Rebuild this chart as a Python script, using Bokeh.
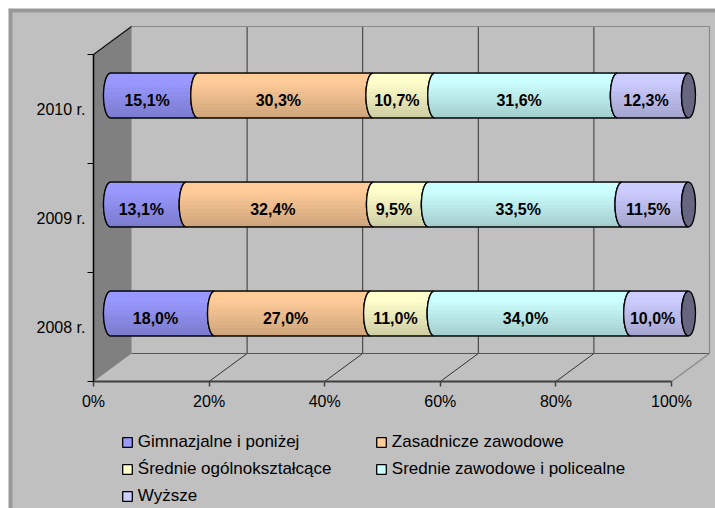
import math
from bokeh.plotting import figure
from bokeh.models import (Range1d, LinearAxis, FixedTicker, PrintfTickFormatter,
                          Legend, LegendItem, BoxAnnotation, ColumnDataSource)
from bokeh.core.properties import value
from bokeh.embed import file_html
from bokeh.resources import INLINE

# ---------------- data ----------------
years = ["2008 r.", "2009 r.", "2010 r."]
series_names = ["Gimnazjalne i poniżej", "Zasadnicze zawodowe",
                "Średnie ogólnokształcące", "Srednie zawodowe i policealne", "Wyższe"]
gimnazjalne = [18.0, 13.1, 15.1]
zasadnicze = [27.0, 32.4, 30.3]
srednie_ogolne = [11.0, 9.5, 10.7]
srednie_zawodowe = [34.0, 33.5, 31.6]
wyzsze = [10.0, 11.5, 12.3]
x_ticks = [0, 20, 40, 60, 80, 100]
colors = ["#9999FF", "#FFCC99", "#FFFFCC", "#CCFFFF", "#CCCCFF"]
cap_color = "#666680"
series = [gimnazjalne, zasadnicze, srednie_ogolne, srednie_zawodowe, wyzsze]

# ---------------- layout constants ----------------
W, H = 715, 508
MARGIN = 8
FW, FH = W - MARGIN, H - MARGIN   # frame size
PX_X = 5.78          # px per percent
PX_Y = 109.0         # px per category
OX, OY = 85.0, 373.0  # frame position of the front-left-bottom corner
x_start = -OX / PX_X
x_end = (FW - OX) / PX_X
y_end = -0.5 + OY / PX_Y
y_start = y_end - FH / PX_Y

DX, DY = 38 / PX_X, 28 / PX_Y          # wall depth
BDX, BDY = 17 / PX_X, 13.5 / PX_Y      # bar depth
A, B = 7 / PX_X, 22.3 / PX_Y           # ellipse semi-axes of the cylinders
LBL_DY = 5 / PX_Y
FONT_NAME = "Liberation Sans"
FONT = value(FONT_NAME)
N_STRIPS = 18

fb, ft = -0.5, len(years) - 0.5

p = figure(width=W, height=H, x_range=Range1d(x_start, x_end), y_range=Range1d(y_start, y_end),
           output_backend="svg", toolbar_location=None, x_axis_type=None, y_axis_type=None,
           min_border=0, min_border_left=MARGIN, min_border_top=MARGIN,
           background_fill_color="#C0C0C0", border_fill_color="white",
           outline_line_color=None)
p.grid.visible = False

# outer chart border (top / left)
p.add_layout(BoxAnnotation(bottom=y_end - 4 / PX_Y, fill_color="#999999", fill_alpha=1,
                           line_alpha=0, level="underlay"))
p.add_layout(BoxAnnotation(right=x_start + 4 / PX_X, fill_color="#999999", fill_alpha=1,
                           line_alpha=0, level="underlay"))

# left wall
p.patch([0, 0, DX, DX], [fb, ft, ft + DY, fb + DY], fill_color="#808080", line_color=None)

inner = [t for t in x_ticks if 0 < t < 100]
# gridlines on back wall
p.segment(x0=[t + DX for t in inner], y0=[fb + DY] * len(inner),
          x1=[t + DX for t in inner], y1=[ft + DY] * len(inner), line_color="#333333", line_width=1)
# floor lines
p.segment(x0=inner, y0=[fb] * len(inner), x1=[t + DX for t in inner], y1=[fb + DY] * len(inner),
          line_color="#333333", line_width=1)
# back wall bottom edge
p.segment(x0=[DX], y0=[fb + DY], x1=[100 + DX], y1=[fb + DY], line_color="#555555", line_width=1)
# back wall top / right edges and floor right edge
p.multi_line(xs=[[DX, 100 + DX, 100 + DX, 100]], ys=[[ft + DY, ft + DY, fb + DY, fb]],
             line_color="#888888", line_width=1.2)
# left wall top edge
p.segment(x0=[0], y0=[ft], x1=[DX], y1=[ft + DY], line_color="#111111", line_width=1.2)


def arc(xc, yc, t0, t1, n=24):
    pts = []
    for k in range(n + 1):
        t = t0 + (t1 - t0) * k / n
        pts.append((xc - A * math.cos(t), yc + B * math.sin(t)))
    return pts


def shade(hexcol, f):
    r, g, b = int(hexcol[1:3], 16), int(hexcol[3:5], 16), int(hexcol[5:7], 16)
    return "#%02x%02x%02x" % (int(r * f), int(g * f), int(b * f))


legend_renderers = []
lab_x, lab_y, lab_t = [], [], []
for j, (name, vals, col) in enumerate(zip(series_names, series, colors)):
    base_xs, base_ys = [], []
    st_xs, st_ys, st_c = [], [], []
    for i, v in enumerate(vals):
        s = sum(series[k][i] for k in range(j))
        e = s + v
        yc = i + BDY
        xs0, xe0 = s + BDX, e + BDX
        shape = arc(xs0, yc, -math.pi / 2, math.pi / 2) + arc(xe0, yc, math.pi / 2, -math.pi / 2)
        base_xs.append([q[0] for q in shape])
        base_ys.append([q[1] for q in shape])
        for k in range(N_STRIPS):
            t0 = -math.pi / 2 + math.pi * k / N_STRIPS
            t1 = -math.pi / 2 + math.pi * (k + 1) / N_STRIPS
            poly = arc(xs0, yc, t0, t1, 3) + arc(xe0, yc, t1, t0, 3)
            st_xs.append([q[0] for q in poly])
            st_ys.append([q[1] for q in poly])
            tm = (t0 + t1) / 2
            frac = (math.sin(tm) + 1) / 2
            f = 0.80 + 0.20 * min(1.0, frac * 1.25)
            st_c.append(shade(col, f))
        lab_x.append((s + e) / 2 + BDX - A)
        lab_y.append(yc - LBL_DY)
        lab_t.append(("%.1f" % v).replace(".", ",") + "%")
    r = p.patches(base_xs, base_ys, fill_color=col, line_color="black", line_width=1.3)
    legend_renderers.append(r)
    p.patches("xs", "ys", source=ColumnDataSource(dict(xs=st_xs, ys=st_ys, c=st_c)),
              fill_color="c", line_color="c", line_width=0.6)
    p.patches(base_xs, base_ys, fill_alpha=0, line_color="black", line_width=1.3)

# end caps
p.ellipse(x=[100 + BDX] * len(years), y=[i + BDY for i in range(len(years))],
          width=2 * A, height=2 * B, fill_color=cap_color, line_color="black", line_width=1.3)

p.text(x=lab_x, y=lab_y, text=lab_t, text_align="center", text_baseline="middle",
       text_font=FONT, text_font_style="bold", text_font_size="16px", text_color="black")

# axes
xaxis = LinearAxis(fixed_location=fb, ticker=FixedTicker(ticks=x_ticks),
                   formatter=PrintfTickFormatter(format="%d%%"), bounds=(0, 100),
                   axis_line_color="#404040", axis_line_width=2,
                   major_tick_line_color="#404040", major_tick_line_width=1.5,
                   major_tick_out=5, major_tick_in=0, minor_tick_out=0, minor_tick_in=0,
                   major_label_standoff=6, major_label_text_font=FONT_NAME,
                   major_label_text_font_size="16px", major_label_text_color="black")
p.add_layout(xaxis, "below")

yaxis = LinearAxis(fixed_location=0,
                   ticker=FixedTicker(ticks=list(range(len(years))),
                                      minor_ticks=[i - 0.5 for i in range(len(years) + 1)]),
                   major_label_overrides={i: y for i, y in enumerate(years)},
                   bounds=(fb, ft), axis_line_color="black", axis_line_width=1.5,
                   major_tick_out=0, major_tick_in=0, minor_tick_out=6, minor_tick_in=0,
                   minor_tick_line_color="black", minor_tick_line_width=1.2,
                   major_label_standoff=2, major_label_text_font=FONT_NAME,
                   major_label_text_font_size="16px", major_label_text_color="black")
p.add_layout(yaxis, "left")

legend = Legend(items=[LegendItem(label=n, renderers=[r]) for n, r in zip(series_names, legend_renderers)],
                orientation="horizontal", ncols=2, location=(112.8, 2.3),
                glyph_width=12, glyph_height=12, label_standoff=5, label_width=230,
                label_height=20, spacing=7, padding=0, margin=0,
                border_line_alpha=0, background_fill_alpha=0,
                label_text_font=FONT_NAME, label_text_font_size="17px", label_text_color="black")
p.add_layout(legend, "center")

open("out.html", "w").write(file_html(p, INLINE))
